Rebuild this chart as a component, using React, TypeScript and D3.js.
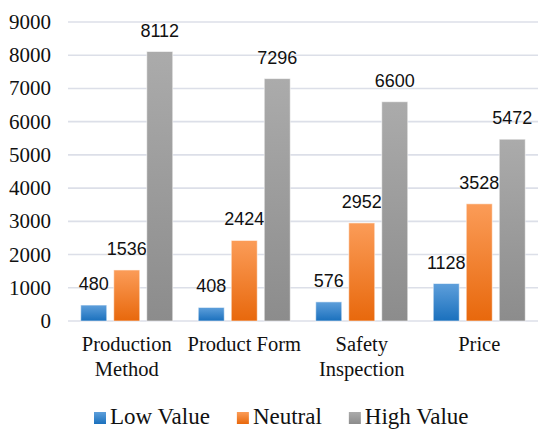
import { useEffect, useRef } from 'react'
import * as d3 from 'd3'

const categories = [['Production', 'Method'], ['Product Form'], ['Safety', 'Inspection'], ['Price']]
const series = ['Low Value', 'Neutral', 'High Value']
const lowValue = [480, 408, 576, 1128]
const neutral = [1536, 2424, 2952, 3528]
const highValue = [8112, 7296, 6600, 5472]
const yTicks = [0, 1000, 2000, 3000, 4000, 5000, 6000, 7000, 8000, 9000]

const gradients = [
  ['#5e9fdb', '#1a70bd'],
  ['#fb9c58', '#e8680c'],
  ['#ababab', '#8c8c8c'],
]

const SERIF = "'Liberation Serif', 'DejaVu Serif', 'Times New Roman', Times, serif"
const SANS = "'Liberation Sans', Arial, sans-serif"

export default function App() {
  const ref = useRef<SVGSVGElement>(null)

  useEffect(() => {
    const svg = d3.select(ref.current)
    svg.selectAll('*').remove()
    const width = 538
    const values = [lowValue, neutral, highValue]
    const keys = categories.map((c) => c.join(' '))

    const x = d3.scaleBand().domain(keys).range([68, width]).padding(0)
    const x1 = d3.scaleBand().domain(series).range([12.75, 104.75]).paddingInner(7 / 33).paddingOuter(0)
    const y = d3.scaleLinear().domain([0, 9000]).range([321, 22])

    const defs = svg.append('defs')
    gradients.forEach((g, i) => {
      const lg = defs.append('linearGradient').attr('id', `grad${i}`).attr('x1', 0).attr('y1', 0).attr('x2', 0).attr('y2', 1)
      lg.append('stop').attr('offset', '0%').attr('stop-color', g[0])
      lg.append('stop').attr('offset', '100%').attr('stop-color', g[1])
    })

    // gridlines
    svg
      .append('g')
      .selectAll('line')
      .data(yTicks)
      .enter()
      .append('line')
      .attr('x1', 68)
      .attr('x2', width)
      .attr('y1', (d) => y(d))
      .attr('y2', (d) => y(d))
      .attr('stroke', '#dcdfe8')
      .attr('stroke-width', 1.6)

    // y tick labels
    svg
      .append('g')
      .selectAll('text')
      .data(yTicks)
      .enter()
      .append('text')
      .attr('x', 51)
      .attr('y', (d) => y(d) + 7)
      .attr('text-anchor', 'end')
      .style('font-family', SERIF)
      .attr('font-size', 21)
      .attr('fill', '#111')
      .text((d) => d)

    // bars
    series.forEach((s, si) => {
      const g = svg.append('g')
      g.selectAll('rect')
        .data(values[si])
        .enter()
        .append('rect')
        .attr('x', (d, i) => (x(keys[i]) as number) + (x1(s) as number))
        .attr('y', (d) => y(d))
        .attr('width', x1.bandwidth())
        .attr('height', (d) => y(0) - y(d))
        .attr('fill', `url(#grad${si})`)
        .attr('stroke', 'rgba(255,255,255,0.55)')
        .attr('stroke-width', 1)

      g.selectAll('text')
        .data(values[si])
        .enter()
        .append('text')
        .attr('x', (d, i) => (x(keys[i]) as number) + (x1(s) as number) + x1.bandwidth() / 2)
        .attr('y', (d) => y(d) - 15)
        .attr('text-anchor', 'middle')
        .style('font-family', SANS)
        .attr('font-size', 18)
        .attr('fill', '#111')
        .text((d) => d)
    })

    // category labels
    const cat = svg.append('g')
    categories.forEach((lines, i) => {
      const cx = (x(keys[i]) as number) + x.bandwidth() / 2
      const t = cat
        .append('text')
        .attr('x', cx)
        .attr('y', 351)
        .attr('text-anchor', 'middle')
        .style('font-family', SERIF)
        .attr('font-size', 20.5)
        .attr('fill', '#111')
      lines.forEach((l, li) => {
        t.append('tspan')
          .attr('x', cx)
          .attr('dy', li === 0 ? 0 : 25)
          .text(l)
      })
    })

    // legend
    const legend = svg.append('g')
    let lx = 94
    series.forEach((s, si) => {
      legend
        .append('rect')
        .attr('x', lx)
        .attr('y', 412)
        .attr('width', 12)
        .attr('height', 12)
        .attr('fill', `url(#grad${si})`)
      const t = legend
        .append('text')
        .attr('x', lx + 16)
        .attr('y', 424)
        .style('font-family', SERIF)
        .attr('font-size', 23)
        .attr('fill', '#111')
        .text(s)
      const w = (t.node() as SVGTextElement).getComputedTextLength()
      lx += 16 + w + 27
    })
  }, [])

  return (
    <>
      <style>{'body{margin:0}'}</style>
      <svg ref={ref} width={538} height={429} style={{ display: 'block', background: '#fff' }} />
    </>
  )
}
